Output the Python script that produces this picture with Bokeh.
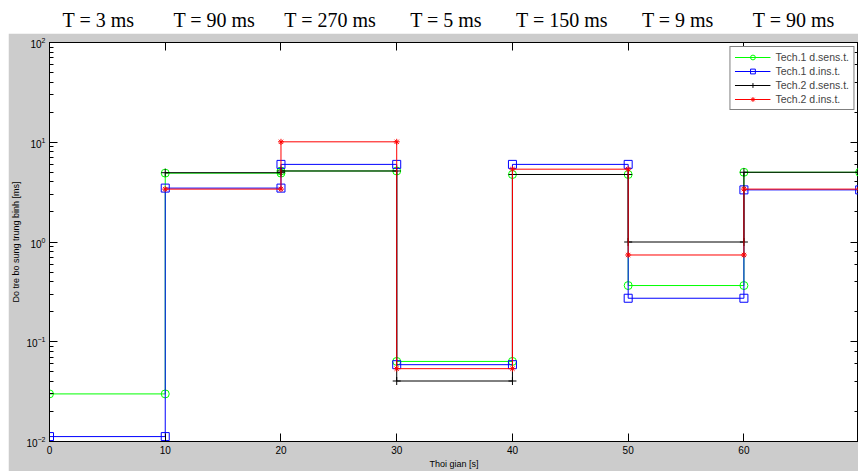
from bokeh.plotting import figure
from bokeh.models import (LogAxis, LinearAxis, SingleIntervalTicker, Range1d, Legend, LegendItem,
                          CustomJSTickFormatter, Spacer)
from bokeh.layouts import column, row
from bokeh.core.properties import value
from bokeh.embed import file_html
from bokeh.resources import INLINE

# ---- data ----
t_edges = [0, 10, 20, 30, 40, 50, 60, 70]
periods = ["T = 3 ms", "T = 90 ms", "T = 270 ms", "T = 5 ms", "T = 150 ms", "T = 9 ms", "T = 90 ms"]
tech1_sens = [0.030, 4.9, 5.15, 0.0635, 4.75, 0.366, 5.0]
tech1_ins = [0.0112, 3.47, 6.0, 0.0589, 6.0, 0.273, 3.33]
tech2_sens = [None, 4.95, 5.15, 0.0404, 4.75, 1.0, 5.0]
tech2_ins = [None, 3.39, 10.1, 0.0537, 5.37, 0.741, 3.39]
series_names = ["Tech.1 d.sens.t.", "Tech.1 d.ins.t.", "Tech.2 d.sens.t.", "Tech.2 d.ins.t."]


def steps(vals):
    xs, ys = [], []
    for i, v in enumerate(vals):
        if v is None:
            continue
        xs += [t_edges[i], t_edges[i + 1]]
        ys += [v, v]
    return xs, ys


W = 850
LEFT = 40
FONT = "Liberation Sans"
BG = "#cccccc"

x_range = Range1d(0, 69.9)

# title strip
top = figure(title=None, width=W, height=33, x_range=x_range, y_range=Range1d(0, 33),
             output_backend="svg", toolbar_location=None,
             min_border_left=LEFT, min_border_right=0, min_border_top=0, min_border_bottom=0)
top.xaxis.visible = False
top.yaxis.visible = False
top.grid.visible = False
top.outline_line_color = None
top.background_fill_color = "white"
top.border_fill_color = "white"
mids = [(t_edges[i] + t_edges[i + 1]) / 2 for i in range(len(periods))]
top.text(x=mids, y=[14] * len(mids), text=periods, text_align="center",
         text_baseline="middle", text_font=value("'Liberation Serif', 'DejaVu Serif', serif"),
         text_font_size="20px", text_color="black")

# main plot
p = figure(width=W, height=438, x_range=x_range, y_range=Range1d(1e-2, 1e2),
           y_axis_type="log", output_backend="svg", toolbar_location=None,
           min_border_left=LEFT, min_border_right=0, min_border_top=9, min_border_bottom=28)
p.background_fill_color = "white"
p.border_fill_color = BG
p.outline_line_color = "black"
p.grid.visible = False

styles = [
    dict(data=tech1_sens, color="#00ff00", marker="circle", size=8),
    dict(data=tech1_ins, color="#0000ff", marker="square", size=8),
    dict(data=tech2_sens, color="black", marker="cross", size=8),
    dict(data=tech2_ins, color="#ff0000", marker="asterisk", size=6),
]
items = []
for name, st in zip(series_names, styles):
    xs, ys = steps(st["data"])
    r1 = p.line(xs, ys, line_color=st["color"], line_width=1)
    r2 = p.scatter(xs, ys, marker=st["marker"], size=st["size"], line_color=st["color"],
                   fill_color=None, line_width=1)
    items.append(LegendItem(label=name, renderers=[r1, r2]))

legend = Legend(items=items, location="top_right")
legend.label_text_font = FONT
legend.label_text_font_size = "10.5px"
legend.label_height = 12
legend.glyph_height = 12
legend.glyph_width = 36
legend.spacing = 2
legend.padding = 4
legend.margin = 4
legend.label_standoff = 5
legend.border_line_color = "black"
legend.border_line_width = 1
legend.background_fill_color = "white"
legend.background_fill_alpha = 1
p.add_layout(legend)

bottom = p.below[0]
left = p.left[0]
bottom.ticker = SingleIntervalTicker(interval=10, num_minor_ticks=0)
bottom.axis_label = "Thoi gian [s]"
left.axis_label = "Do tre bo sung trung binh [ms]"

blank = CustomJSTickFormatter(code="return ''")
right = LogAxis(formatter=blank)
above = LinearAxis(ticker=SingleIntervalTicker(interval=10, num_minor_ticks=0), formatter=blank)
p.add_layout(right, "right")
p.add_layout(above, "above")

for ax in [bottom, left, right, above]:
    ax.axis_line_color = "black"
    ax.major_tick_in = 8
    ax.major_tick_out = 0
    ax.minor_tick_in = 4
    ax.minor_tick_out = 0
    ax.major_tick_line_color = "black"
    ax.minor_tick_line_color = "black"
    ax.major_label_text_font = FONT
    ax.major_label_text_font_size = "10px"
    ax.major_label_text_color = "black"
    ax.major_label_standoff = 4
    ax.axis_label_text_font = FONT
    ax.axis_label_text_font_size = "9px"
    ax.axis_label_text_color = "black"
    ax.axis_label_text_font_style = "normal"
    ax.axis_label_standoff = 2
for ax in [right, above]:
    ax.major_label_standoff = 0
bottom.minor_tick_line_color = None
above.minor_tick_line_color = None

layout = column(top, row(Spacer(width=8, height=438, background="white"), p, spacing=0), spacing=0)
open("out.html", "w").write(file_html(layout, INLINE))
